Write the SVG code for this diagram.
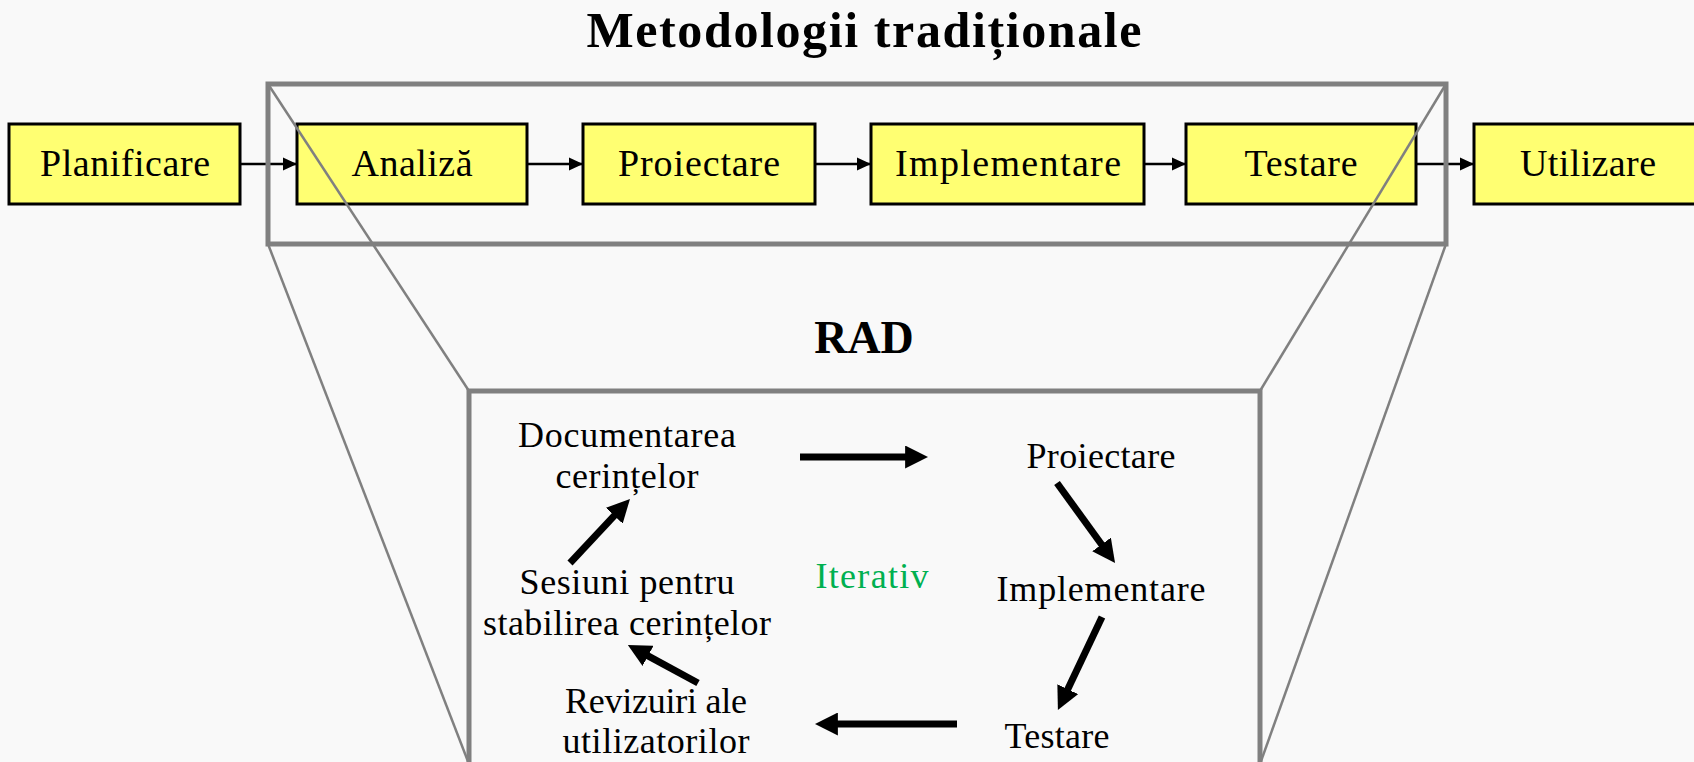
<svg xmlns="http://www.w3.org/2000/svg" width="1694" height="762" viewBox="0 0 1694 762">
<style>
.t{font-family:"Liberation Serif","Times New Roman",serif;fill:#000;text-anchor:middle}
.title{font-size:50px;font-weight:bold}
.box rect{fill:#ffff72;stroke:#000;stroke-width:3}
.bt{font-size:38px}
.it{font-size:36px}
.frame{fill:none;stroke:#808080;stroke-width:5}
.diag{stroke:#808080;stroke-width:2.5;fill:none}
.thin{stroke:#000;stroke-width:2.5;fill:none;marker-end:url(#ah)}
.thick{stroke:#000;stroke-width:7;fill:none;marker-end:url(#AH)}
</style>
<defs>
<marker id="ah" markerUnits="userSpaceOnUse" markerWidth="14" markerHeight="14" viewBox="0 0 14 13" refX="14" refY="6.5" orient="auto"><path d="M0,0 L14,6.5 L0,13 z" fill="#000"/></marker>
<marker id="AH" markerUnits="userSpaceOnUse" markerWidth="23" markerHeight="23" viewBox="0 0 10 10" refX="3" refY="5" orient="auto"><path d="M0,0 L10,5 L0,10 z" fill="#000"/></marker>
</defs>
<rect x="0" y="0" width="1694" height="762" fill="#f9f9f9"/>
<g id="title"><text class="t title" x="864" y="47" textLength="555">Metodologii tradiționale</text></g>
<g id="connectors-top">
<line class="thin" x1="240" y1="164" x2="297" y2="164"/>
<line class="thin" x1="527" y1="164" x2="583" y2="164"/>
<line class="thin" x1="815" y1="164" x2="871" y2="164"/>
<line class="thin" x1="1144" y1="164" x2="1186" y2="164"/>
<line class="thin" x1="1416" y1="164" x2="1474" y2="164"/>
</g>
<g id="planificare" class="box"><rect x="9" y="124" width="231" height="80"/><text class="t bt" x="125" y="176" textLength="170">Planificare</text></g>
<g id="analiza" class="box"><rect x="297" y="124" width="230" height="80"/><text class="t bt" x="412" y="176" textLength="121">Analiză</text></g>
<g id="proiectare" class="box"><rect x="583" y="124" width="232" height="80"/><text class="t bt" x="699" y="176" textLength="162">Proiectare</text></g>
<g id="implementare" class="box"><rect x="871" y="124" width="273" height="80"/><text class="t bt" x="1008" y="176" textLength="226">Implementare</text></g>
<g id="testare" class="box"><rect x="1186" y="124" width="230" height="80"/><text class="t bt" x="1301" y="176" textLength="113">Testare</text></g>
<g id="utilizare" class="box"><rect x="1474" y="124" width="232" height="80"/><text class="t bt" x="1588" y="176" textLength="136">Utilizare</text></g>
<g id="zoom-frame">
<rect class="frame" x="268" y="84" width="1178" height="160"/>
<line class="diag" x1="268" y1="84" x2="469" y2="391"/>
<line class="diag" x1="268" y1="244" x2="469" y2="764"/>
<line class="diag" x1="1446" y1="84" x2="1260" y2="391"/>
<line class="diag" x1="1446" y1="244" x2="1260" y2="764"/>
</g>
<g id="rad-title"><text class="t title" x="864" y="353" font-size="46" style="font-size:46px">RAD</text></g>
<g id="rad-frame"><rect class="frame" x="469" y="391" width="791" height="420"/></g>
<g id="rad-documentarea"><text class="t it" x="627" y="447" textLength="218">Documentarea</text><text class="t it" x="627" y="488" textLength="143">cerințelor</text></g>
<g id="rad-proiectare"><text class="t it" x="1101" y="468" textLength="149">Proiectare</text></g>
<g id="rad-implementare"><text class="t it" x="1101" y="601" textLength="209">Implementare</text></g>
<g id="rad-testare"><text class="t it" x="1057" y="748" textLength="105">Testare</text></g>
<g id="rad-revizuiri"><text class="t it" x="656" y="713" textLength="182">Revizuiri ale</text><text class="t it" x="656" y="753" textLength="187">utilizatorilor</text></g>
<g id="rad-sesiuni"><text class="t it" x="627" y="594" textLength="215">Sesiuni pentru</text><text class="t it" x="627" y="635" textLength="288">stabilirea cerințelor</text></g>
<g id="rad-iterativ"><text class="t it" x="872" y="588" textLength="113" style="fill:#00b050">Iterativ</text></g>
<g id="connectors-rad">
<line class="thick" x1="800" y1="457" x2="912" y2="457"/>
<line class="thick" x1="1057" y1="483" x2="1105.6" y2="550"/>
<line class="thick" x1="1102" y1="617" x2="1064.8" y2="695.5"/>
<line class="thick" x1="957" y1="724" x2="831" y2="724"/>
<line class="thick" x1="698" y1="683" x2="642" y2="652.6"/>
<line class="thick" x1="570" y1="563" x2="619" y2="510.7"/>
</g>
</svg>
